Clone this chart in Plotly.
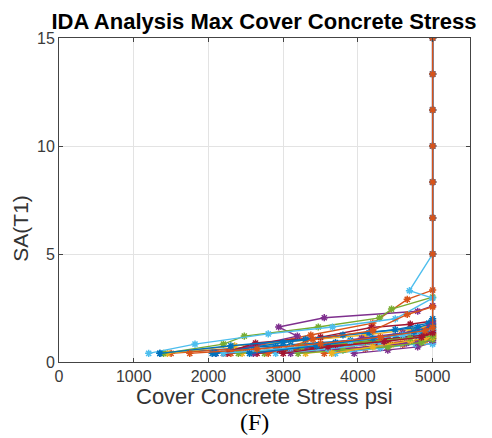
import plotly.graph_objects as go

# IDA records: max cover concrete stress (psi) vs SA(T1)
stress_01 = [1350, 2300, 3100, 3900, 4500, 4900, 5000]
sa_01 = [0.4, 0.6, 0.8, 1.0, 1.2, 1.4, 1.6]
stress_02 = [1500, 2500, 3370, 4200, 4660, 5000, 5000, 5000, 5000, 5000, 5000, 5000, 5000]
sa_02 = [0.4, 0.65, 1.25, 1.8, 2.9, 3.33, 5.0, 6.67, 8.33, 10.0, 11.67, 13.33, 15.0]
stress_03 = [1450, 2350, 3300, 4100, 4700, 5000]
sa_03 = [0.4, 0.75, 1.0, 1.25, 1.5, 1.7]
stress_04 = [2100, 2600, 3190, 2940, 3550, 4800, 5000, 5000, 5000, 5000, 5000, 5000, 5000, 5000]
sa_04 = [0.4, 0.75, 1.2, 1.62, 2.05, 2.35, 2.6, 5.0, 6.67, 8.33, 10.0, 11.67, 13.33, 15.0]
stress_05 = [1400, 2200, 2480, 3470, 4290, 4450, 5000]
sa_05 = [0.4, 0.83, 1.2, 1.62, 2.04, 2.45, 3.0]
stress_06 = [1200, 1820, 2800, 3660, 4500, 5000, 4690, 5000, 5000, 5000, 5000, 5000, 5000, 5000]
sa_06 = [0.4, 0.83, 1.3, 1.62, 2.0, 2.96, 3.3, 5.0, 6.67, 8.33, 10.0, 11.67, 13.33, 15.0]
stress_07 = [2200, 2630, 3500, 4180, 4700, 5000]
sa_07 = [0.4, 0.88, 1.15, 1.6, 1.75, 1.9]
stress_08 = [2050, 2900, 3700, 4400, 4850, 5000, 5000, 5000, 5000, 5000, 5000, 5000, 5000]
sa_08 = [0.4, 0.7, 0.9, 1.05, 1.3, 1.5, 5.0, 6.67, 8.33, 10.0, 11.67, 13.33, 15.0]
stress_09 = [3550, 4100, 4600, 4900, 5000]
sa_09 = [0.4, 0.6, 0.8, 1.0, 1.2]
stress_10 = [2450, 3200, 3900, 4600, 5000]
sa_10 = [0.4, 0.6, 0.75, 0.9, 1.1]
stress_11 = [3950, 4400, 4800, 5000]
sa_11 = [0.4, 0.55, 0.7, 0.9]
stress_12 = [2750, 3500, 4300, 4800, 5000]
sa_12 = [0.4, 0.7, 1.0, 1.15, 1.3]
stress_13 = [3700, 4300, 4770, 5000]
sa_13 = [0.4, 0.65, 0.83, 0.83]
stress_14 = [2650, 3400, 4250, 4800, 5000]
sa_14 = [0.4, 0.6, 0.85, 1.0, 1.1]
stress_15 = [2100, 3000, 3800, 4500, 4950, 5000]
sa_15 = [0.4, 0.9, 1.25, 1.5, 1.8, 2.0]
stress_16 = [2300, 3100, 3950, 4700, 5000]
sa_16 = [0.4, 0.65, 0.85, 1.1, 1.3]
stress_17 = [3300, 3850, 4450, 4900, 5000]
sa_17 = [0.4, 0.6, 0.8, 1.0, 1.25]
stress_18 = [3100, 3750, 4650, 4800, 5000]
sa_18 = [0.4, 0.6, 0.87, 0.87, 1.0]
stress_19 = [3200, 3800, 4400, 4850, 5000]
sa_19 = [0.4, 0.55, 0.7, 0.9, 1.05]
stress_20 = [2900, 3600, 4300, 4800, 5000]
sa_20 = [0.4, 0.6, 0.9, 1.2, 1.4]
stress_21 = [2250, 2950, 3700, 4400, 4900, 5000]
sa_21 = [0.4, 0.55, 0.8, 1.05, 1.25, 1.45]
stress_22 = [1350, 2300, 3300, 4150, 4800, 5000]
sa_22 = [0.4, 0.75, 1.05, 1.35, 1.6, 1.8]
stress_23 = [2800, 3400, 4200, 4660, 5000]
sa_23 = [0.4, 1.05, 1.45, 2.2, 2.55]
stress_24 = [3650, 4200, 4700, 5000]
sa_24 = [0.4, 0.7, 1.0, 1.15]
stress_25 = [2600, 3300, 4050, 4600, 4950, 5000]
sa_25 = [0.4, 0.7, 1.1, 1.35, 1.6, 1.75]
stress_26 = [2400, 3250, 4100, 4700, 5000]
sa_26 = [0.4, 0.7, 0.95, 1.1, 1.2]
stress_27 = [2200, 3100, 3900, 4600, 5000]
sa_27 = [0.4, 0.65, 0.95, 1.25, 1.5]
stress_28 = [3000, 3600, 4350, 4850, 5000]
sa_28 = [0.4, 0.7, 0.95, 1.15, 1.35]
stress_29 = [2550, 3450, 4200, 4750, 5000]
sa_29 = [0.4, 0.75, 1.1, 1.4, 1.65]
stress_30 = [1750, 2650, 3500, 4300, 4900, 5000, 5000, 5000, 5000, 5000, 5000, 5000, 5000]
sa_30 = [0.4, 0.6, 0.85, 1.15, 1.45, 1.6, 5.0, 6.67, 8.33, 10.0, 11.67, 13.33, 15.0]

records = [
    (stress_01, sa_01), (stress_02, sa_02), (stress_03, sa_03), (stress_04, sa_04),
    (stress_05, sa_05), (stress_06, sa_06), (stress_07, sa_07), (stress_08, sa_08),
    (stress_09, sa_09), (stress_10, sa_10), (stress_11, sa_11), (stress_12, sa_12),
    (stress_13, sa_13), (stress_14, sa_14), (stress_15, sa_15), (stress_16, sa_16),
    (stress_17, sa_17), (stress_18, sa_18), (stress_19, sa_19), (stress_20, sa_20),
    (stress_21, sa_21), (stress_22, sa_22), (stress_23, sa_23), (stress_24, sa_24),
    (stress_25, sa_25), (stress_26, sa_26), (stress_27, sa_27), (stress_28, sa_28),
    (stress_29, sa_29), (stress_30, sa_30),
]

# matlab default line colours
colors = ["#0072BD", "#D95319", "#EDB120", "#7E2F8E", "#77AC30", "#4DBEEE", "#A2142F"]

fig = go.Figure()
for i, (xs, ys) in enumerate(records):
    c = colors[i % len(colors)]
    fig.add_trace(go.Scatter(
        x=xs, y=ys, mode="lines+markers",
        line=dict(color=c, width=1.4),
        marker=dict(symbol="asterisk-open", size=6, line=dict(color=c, width=1.5)),
        showlegend=False,
    ))

axis_common = dict(
    showline=True, mirror="ticks", linecolor="#444", linewidth=1,
    ticks="inside", ticklen=4, tickcolor="#444",
    showgrid=True, gridcolor="#e3e3e3", zeroline=False,
    tickfont=dict(family="Liberation Sans", size=16, color="#3a3a3a"),
)
fig.update_xaxes(range=[0, 5500], dtick=1000, tick0=0, **axis_common)
fig.update_yaxes(range=[0, 15], dtick=5, tick0=0, **axis_common)

# page body has an 8px margin, so the figure sits at (8, 8) in the window
fig.update_layout(
    width=484, height=430,
    margin=dict(l=51, r=22, t=30, b=76),
    plot_bgcolor="white", paper_bgcolor="white",
    title=dict(text="<b>IDA Analysis Max Cover Concrete Stress</b>",
               xref="container", x=0.529, xanchor="center",
               yref="container", y=0.97, yanchor="middle",
               font=dict(family="Liberation Sans", size=22, color="black")),
    annotations=[
        dict(text="Cover Concrete Stress psi", xref="paper", yref="paper",
             x=0.5, y=-0.105, xanchor="center", yanchor="middle", showarrow=False,
             font=dict(family="Liberation Sans", size=22, color="#333")),
        dict(text="SA(T1)", xref="paper", yref="paper", textangle=-90,
             x=-0.093, y=0.414, xanchor="center", yanchor="middle", showarrow=False,
             font=dict(family="Liberation Sans", size=21, color="#333")),
        dict(text="(F)", xref="paper", yref="paper",
             x=0.476, y=-0.185, xanchor="center", yanchor="middle", showarrow=False,
             font=dict(family="Liberation Serif", size=24, color="black")),
    ],
)

fig.write_html("out.html")
